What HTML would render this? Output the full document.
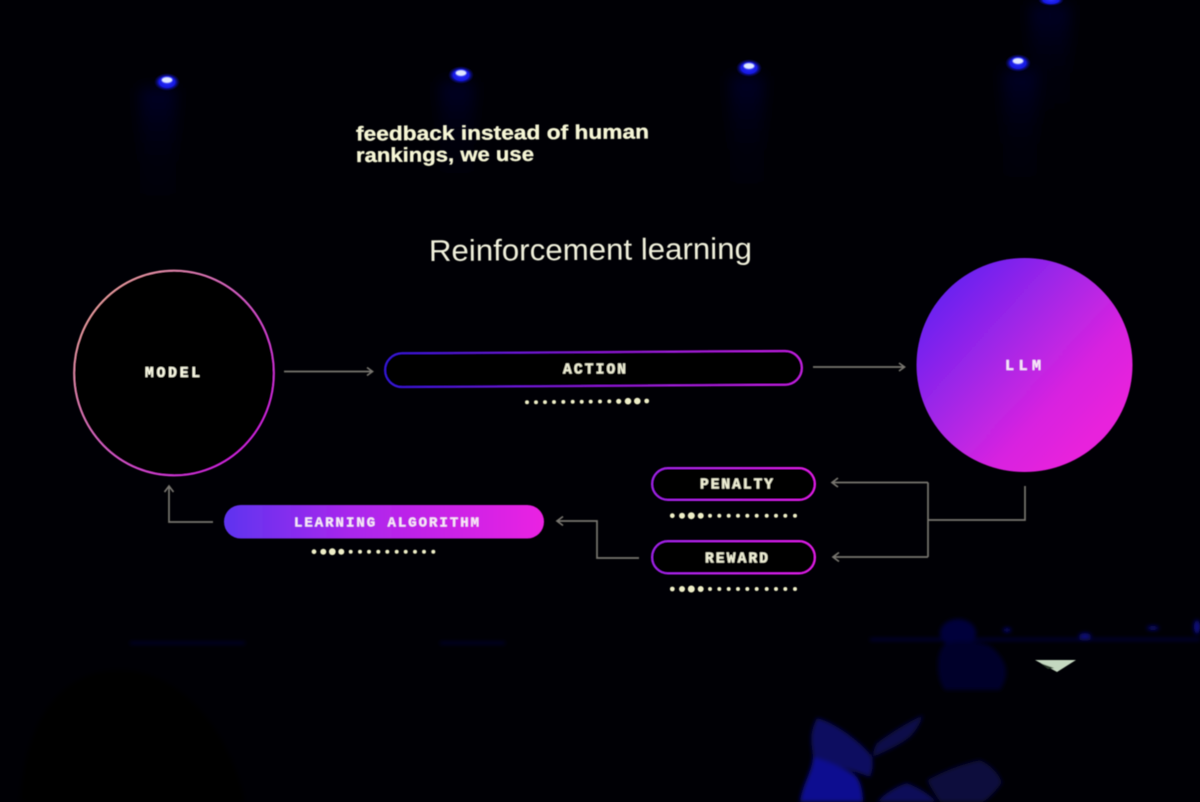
<!DOCTYPE html>
<html><head><meta charset="utf-8"><style>
html,body{margin:0;padding:0;background:#000005;width:1200px;height:802px;overflow:hidden}
svg{display:block}
</style></head><body>
<svg width="1200" height="802" viewBox="0 0 1200 802" xmlns="http://www.w3.org/2000/svg">
<defs>
<linearGradient id="llm" x1="0.08" y1="0.2" x2="0.8" y2="0.85"><stop offset="0" stop-color="#6a22f0"/><stop offset="0.42" stop-color="#a826e6"/><stop offset="0.75" stop-color="#d824e0"/><stop offset="1" stop-color="#e820dc"/></linearGradient>
<linearGradient id="model" x1="0" y1="0.1" x2="0.9" y2="0.9"><stop offset="0" stop-color="#f4b096"/><stop offset="0.5" stop-color="#dc62c8"/><stop offset="1" stop-color="#d41ee8"/></linearGradient>
<linearGradient id="action" gradientUnits="userSpaceOnUse" x1="384" y1="0" x2="803" y2="0"><stop offset="0" stop-color="#3416d8"/><stop offset="0.5" stop-color="#8a18d4"/><stop offset="1" stop-color="#c620e4"/></linearGradient>
<linearGradient id="pill" x1="0" y1="0" x2="1" y2="0"><stop offset="0" stop-color="#a022ea"/><stop offset="1" stop-color="#e41eea"/></linearGradient>
<linearGradient id="algo" x1="0" y1="0" x2="1" y2="0"><stop offset="0" stop-color="#5e34f0"/><stop offset="0.4" stop-color="#aa26ec"/><stop offset="1" stop-color="#ea20e2"/></linearGradient>
<linearGradient id="beam" x1="0" y1="0" x2="0" y2="1"><stop offset="0" stop-color="#08085a" stop-opacity="0.4"/><stop offset="0.5" stop-color="#06063a" stop-opacity="0.15"/><stop offset="1" stop-color="#06063a" stop-opacity="0"/></linearGradient>
<radialGradient id="glow"><stop offset="0" stop-color="#2a30ff"/><stop offset="0.6" stop-color="#1518e0"/><stop offset="1" stop-color="#0a0a80" stop-opacity="0"/></radialGradient>
<filter id="s" x="-5%" y="-5%" width="110%" height="110%"><feGaussianBlur stdDeviation="0.45"/></filter>
<filter id="b" x="-50%" y="-30%" width="200%" height="160%"><feGaussianBlur stdDeviation="7"/></filter>
<filter id="b2" x="-20%" y="-20%" width="140%" height="140%"><feGaussianBlur stdDeviation="2.2"/></filter>
<filter id="b3" x="-20%" y="-50%" width="140%" height="200%"><feGaussianBlur stdDeviation="0.6"/></filter>
<filter id="b1" x="-20%" y="-50%" width="140%" height="200%"><feGaussianBlur stdDeviation="0.8"/></filter>
</defs>
<rect width="1200" height="802" fill="#000005"/>

<g filter="url(#b)">
<rect x="140" y="88" width="36" height="130" fill="url(#beam)"/>
<rect x="440" y="82" width="34" height="110" fill="url(#beam)"/>
<rect x="730" y="76" width="34" height="130" fill="url(#beam)"/>
<rect x="1003" y="70" width="34" height="130" fill="url(#beam)"/>
<rect x="1030" y="5" width="40" height="120" fill="url(#beam)"/>
</g>

<g>
<ellipse cx="167" cy="82" rx="13" ry="9" fill="url(#glow)"/><ellipse cx="167" cy="80" rx="5.500" ry="3" fill="#dfe8ff" filter="url(#b1)"/>
<ellipse cx="461" cy="75" rx="13" ry="9" fill="url(#glow)"/><ellipse cx="461" cy="73" rx="5.500" ry="3" fill="#dfe8ff" filter="url(#b1)"/>
<ellipse cx="749" cy="68" rx="13" ry="9" fill="url(#glow)"/><ellipse cx="749" cy="66" rx="5.500" ry="3" fill="#dfe8ff" filter="url(#b1)"/>
<ellipse cx="1018" cy="63" rx="13" ry="9" fill="url(#glow)"/><ellipse cx="1018" cy="61" rx="5.500" ry="3" fill="#dfe8ff" filter="url(#b1)"/>
<ellipse cx="1051" cy="0" rx="13" ry="6" fill="url(#glow)"/>
</g>

<g filter="url(#s)">
<text x="356" y="140.500" font-family="Liberation Sans, sans-serif" font-weight="700" font-size="20" fill="#f6f6d6" stroke="#f6f6d6" stroke-width="0.35" textLength="293" lengthAdjust="spacingAndGlyphs" transform="rotate(-0.4 356 140)">feedback instead of human</text>
<text x="356" y="162" font-family="Liberation Sans, sans-serif" font-weight="700" font-size="20" fill="#f6f6d6" stroke="#f6f6d6" stroke-width="0.35" textLength="178" lengthAdjust="spacingAndGlyphs" transform="rotate(-0.4 356 162)">rankings, we use</text>
<text x="429" y="261" font-family="Liberation Sans, sans-serif" font-size="30" fill="#f0f0dc" textLength="323" lengthAdjust="spacingAndGlyphs" transform="rotate(-0.4 429 261)">Reinforcement learning</text>

<ellipse cx="174" cy="373" rx="100" ry="102.500" fill="#000005" stroke="url(#model)" stroke-width="1.700"/>
<text x="145" y="377" font-family="Liberation Mono, monospace" font-weight="700" font-size="14.500" fill="#fafae4" stroke="#fafae4" stroke-width="0.3" textLength="55">MODEL</text>

<ellipse cx="1024.500" cy="365" rx="108" ry="107" fill="url(#llm)"/>
<text x="1005" y="370" font-family="Liberation Mono, monospace" font-weight="700" font-size="15" fill="#f8e8f8" stroke="#f8e8f8" stroke-width="0.3" textLength="36">LLM</text>

<g transform="rotate(-0.35 594 369)">
<rect x="385" y="352" width="417" height="34" rx="17" fill="#000005" stroke="url(#action)" stroke-width="2"/>
</g>
<text x="563" y="373.500" font-family="Liberation Mono, monospace" font-weight="700" font-size="14.500" fill="#f0f0d6" stroke="#f0f0d6" stroke-width="0.3" textLength="63">ACTION</text>

<rect x="652" y="468" width="163" height="32" rx="16" fill="#000005" stroke="url(#pill)" stroke-width="2"/>
<text x="700" y="488.500" font-family="Liberation Mono, monospace" font-weight="700" font-size="14.500" fill="#f0f0d6" stroke="#f0f0d6" stroke-width="0.3" textLength="73">PENALTY</text>
<rect x="652" y="541" width="163" height="32.500" rx="16" fill="#000005" stroke="url(#pill)" stroke-width="2"/>
<text x="705" y="562.500" font-family="Liberation Mono, monospace" font-weight="700" font-size="14.500" fill="#f0f0d6" stroke="#f0f0d6" stroke-width="0.3" textLength="63">REWARD</text>

<rect x="224" y="505" width="320" height="33.500" rx="16.700" fill="url(#algo)"/>
<text x="294" y="526.500" font-family="Liberation Mono, monospace" font-weight="700" font-size="14" fill="#f8e8f6" stroke="#f8e8f6" stroke-width="0.2" textLength="185">LEARNING ALGORITHM</text>

<g fill="none" stroke="#77756f" stroke-width="1.700">
<path d="M284 371.500H372M367 367.500l5.500 4-5.500 4"/>
<path d="M813 367H904M899 363l5.500 4-5.500 4"/>
<path d="M1025 486V520H928M928 482.500V557M928 482.500H832M838 478l-6 4.500 6 4.500M928 557H833M839 552.500l-6 4.500 6 4.500"/>
<path d="M639 558H597V521H557M563 516.500l-6 4.500 6 4.500"/>
<path d="M213 522H169V486M164.500 492l4.500-6 4.500 6"/>
</g>

<g fill="#efefc8">
<circle cx="527" cy="402.300" r="2"/><circle cx="536" cy="402.200" r="2"/><circle cx="545" cy="402.100" r="2"/><circle cx="554" cy="402" r="2"/><circle cx="563.300" cy="401.900" r="2"/><circle cx="572.700" cy="401.800" r="2"/><circle cx="581.700" cy="401.700" r="2"/><circle cx="590.700" cy="401.600" r="2"/><circle cx="600" cy="401.500" r="2"/><circle cx="609.300" cy="401.400" r="2"/><circle cx="618.700" cy="401.300" r="2.600"/><circle cx="628" cy="401.200" r="3.300"/><circle cx="637.300" cy="401.100" r="3.300"/><circle cx="646.700" cy="401" r="2.400"/>

<circle cx="672.300" cy="515.700" r="2.400"/><circle cx="682" cy="515.700" r="3"/><circle cx="691.300" cy="515.700" r="3.500"/><circle cx="700.700" cy="515.700" r="3"/><circle cx="710" cy="515.700" r="2"/><circle cx="719.300" cy="515.700" r="2"/><circle cx="728.700" cy="515.700" r="2"/><circle cx="738" cy="515.700" r="2"/><circle cx="747.300" cy="515.700" r="2"/><circle cx="756.700" cy="515.700" r="2"/><circle cx="766.700" cy="515.700" r="2"/><circle cx="776" cy="515.700" r="2"/><circle cx="785.300" cy="515.700" r="2"/><circle cx="795" cy="515.700" r="2"/>

<circle cx="672.300" cy="589" r="2.400"/><circle cx="682" cy="589" r="3"/><circle cx="691.300" cy="589" r="3.500"/><circle cx="700.700" cy="589" r="3"/><circle cx="710" cy="589" r="2"/><circle cx="719.300" cy="589" r="2"/><circle cx="728.700" cy="589" r="2"/><circle cx="738" cy="589" r="2"/><circle cx="747.300" cy="589" r="2"/><circle cx="756.700" cy="589" r="2"/><circle cx="766.700" cy="589" r="2"/><circle cx="776" cy="589" r="2"/><circle cx="785.300" cy="589" r="2"/><circle cx="795" cy="589" r="2"/>

<circle cx="314" cy="551.700" r="2.400"/><circle cx="323.300" cy="551.700" r="3"/><circle cx="332.300" cy="551.700" r="3.400"/><circle cx="341.300" cy="551.700" r="3"/><circle cx="350.700" cy="551.700" r="2"/><circle cx="360" cy="551.700" r="2"/><circle cx="369" cy="551.700" r="2"/><circle cx="378.300" cy="551.700" r="2"/><circle cx="387.300" cy="551.700" r="2"/><circle cx="396.700" cy="551.700" r="2"/><circle cx="405.700" cy="551.700" r="2"/><circle cx="415" cy="551.700" r="2"/><circle cx="424" cy="551.700" r="2"/><circle cx="433.300" cy="551.700" r="2"/>
</g>
</g>

<!-- audience -->
<g filter="url(#b2)">
<path d="M20 802C25 720 60 670 120 670C180 670 230 730 245 802Z" fill="#060006"/>
<path d="M130 642H245V644H130ZM440 642H505V644H440Z" fill="#06063a"/>
<path d="M870 640.500H1200V638.500H870Z" fill="#08084a"/>
<ellipse cx="1007" cy="630" rx="4" ry="2" fill="#0a0a80"/>
<ellipse cx="1085" cy="636" rx="6" ry="3" fill="#0a0a80"/>
<ellipse cx="1153" cy="628" rx="6" ry="2" fill="#0a0a80"/>
<ellipse cx="1197" cy="627" rx="3" ry="7" fill="#0a0a90"/>
<ellipse cx="958" cy="633" rx="18" ry="14" fill="#06063a"/>
<path d="M945 644C935 652 936 680 945 690L1000 690C1010 675 1008 660 990 646C975 640 955 640 945 644Z" fill="#04042a"/>
<path d="M817 718C835 722 865 745 872 757C874 765 872 772 870 777L813 757C812 745 808 735 817 718Z" fill="#0a0a60"/>
<path d="M813 757C830 762 850 770 857 777C862 785 863 795 863 802H800C802 785 812 772 813 757Z" fill="#0c0c90"/>
<path d="M923 715C920 725 915 732 910 737C900 745 885 752 873 757C873 750 875 746 877 743C890 733 908 722 923 715Z" fill="#08084a"/>
<path d="M877 802C885 793 897 786 907 783C920 788 930 795 937 802Z" fill="#0a0a58"/>
<path d="M927 780C945 770 965 763 980 760C992 765 1000 775 1002 783C995 792 990 798 983 802H940C935 795 930 787 927 780Z" fill="#07073c"/>
</g>
<g filter="url(#b3)">
<path d="M1035 660H1076L1057 672Z" fill="#c4d8c0"/>
<path d="M1040 663L1054 668L1048 669Z" fill="#2a3a2a"/>
</g>
</svg>
</body></html>
